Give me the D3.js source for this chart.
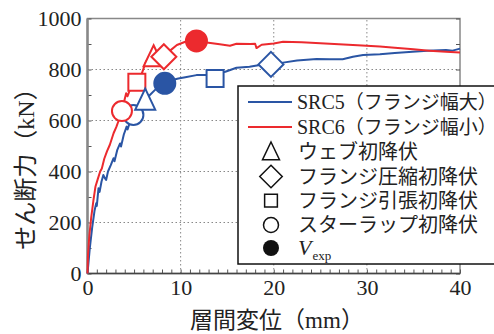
<!DOCTYPE html>
<html>
<head>
<meta charset="utf-8">
<script src="https://cdn.jsdelivr.net/npm/d3@7"></script>
<style>
  body { margin: 0; background: #fff; }
  svg { display: block; }
  text { fill: #222; }
  .serif { font-family: "Liberation Serif", "Times New Roman", "DejaVu Serif", serif; }
  .jp { font-family: "Noto Sans CJK JP", sans-serif; }
</style>
</head>
<body>
<svg id="chart" width="494" height="334"></svg>
<script>
// drift (mm) vs shear (kN)
const src5 = [[0,0],[0.25,100],[0.5,180],[0.75,245],[0.93,275],[1.0,265],[1.18,334],[1.3,320],[1.5,360],[1.7,386],[1.85,375],[2.0,367],[2.2,400],[2.5,425],[2.8,452],[2.9,440],[3.2,485],[3.5,510],[3.6,498],[3.9,545],[4.2,576],[4.3,565],[4.6,598],[4.93,622],[5.5,650],[6.2,674],[6.7,700],[7.25,720],[7.8,738],[8.3,746],[9.0,758],[9.75,765],[10.5,770],[11.7,778],[12.8,778],[14.8,791],[16,807],[17.4,811],[18.5,818],[19.7,820],[21,827],[22.5,835],[24.6,841],[26,840],[27.4,840],[28.5,850],[29.6,857],[31.4,860],[33,865],[34.9,870],[36.5,874],[38.5,876],[39.2,874],[40,882]];
const src6 = [[0,0],[0.05,70],[0.2,150],[0.4,220],[0.64,288],[0.85,340],[1.1,370],[1.36,400],[1.54,412],[1.8,450],[2.1,480],[2.4,505],[2.8,550],[3.1,575],[3.3,595],[3.7,637],[3.9,670],[4.15,707],[4.3,695],[4.6,725],[5.3,750],[5.8,781],[6.3,833],[6.8,840],[7.1,844],[7.7,846],[8.2,850],[8.9,875],[9.6,896],[10.5,909],[11.7,912],[13,905],[14.2,899],[15.3,893],[16,901],[17.5,900],[18,901],[18.15,884],[18.7,897],[20,902],[21,909],[23,907],[25,903],[27,899],[29,895],[31.4,890],[33,885],[35,879],[36.7,874],[38.5,870],[40,867]];

// event points [mm, kN]: SRC5, SRC6
const webYield = [[6.2,674],[7.1,844]];
const flangeCompYield = [[19.7,820],[8.2,850]];
const flangeTensYield = [[13.7,765],[5.3,750]];
const stirrupYield = [[4.93,622],[3.7,637]];
const vExp = [[8.3,746],[11.7,912]];

const seriesIds = ["SRC5", "SRC6"];
const seriesNotes = ["（フランジ幅大）", "（フランジ幅小）"];
const seriesColors = ["#2a55a4", "#ec2a2e"];
const markerNames = ["ウェブ初降伏", "フランジ圧縮初降伏", "フランジ引張初降伏", "スターラップ初降伏"];

const xTicks = [0, 10, 20, 30, 40];
const yTicks = [0, 200, 400, 600, 800, 1000];

const svg = d3.select("#chart");
const x = d3.scaleLinear().domain([0, 40]).range([87.5, 460]);
const y = d3.scaleLinear().domain([0, 1000]).range([273.5, 18.5]);

// grid
svg.append("g").selectAll("line").data([10, 20, 30]).enter().append("line")
  .attr("x1", d => x(d)).attr("x2", d => x(d))
  .attr("y1", y(0)).attr("y2", y(1000))
  .attr("stroke", "#888").attr("stroke-dasharray", "1.5,2.5");
svg.append("g").selectAll("line").data([200, 400, 600, 800]).enter().append("line")
  .attr("x1", x(0)).attr("x2", x(40))
  .attr("y1", d => y(d)).attr("y2", d => y(d))
  .attr("stroke", "#888").attr("stroke-dasharray", "1.5,2.5");

// frame
svg.append("rect")
  .attr("x", x(0)).attr("y", y(1000))
  .attr("width", x(40) - x(0)).attr("height", y(0) - y(1000))
  .attr("fill", "none").attr("stroke", "#888").attr("stroke-width", 1.5);

// minor ticks
const xMinor = svg.append("g").attr("transform", `translate(0,${y(0)})`)
  .call(d3.axisBottom(x).ticks(40).tickSize(-4).tickFormat(""));
const yMinor = svg.append("g").attr("transform", `translate(${x(0)},0)`)
  .call(d3.axisLeft(y).ticks(10).tickSize(-4).tickFormat(""));
const yMinorR = svg.append("g").attr("transform", `translate(${x(40)},0)`)
  .call(d3.axisRight(y).ticks(10).tickSize(-4).tickFormat(""));
[xMinor, yMinor, yMinorR].forEach(g => {
  g.select(".domain").remove();
  g.selectAll("line").attr("stroke", "#555");
});

// axis lines
svg.append("line").attr("x1", x(0)).attr("x2", x(40)).attr("y1", y(0)).attr("y2", y(0))
  .attr("stroke", "#444").attr("stroke-width", 1.5);
svg.append("line").attr("x1", x(0)).attr("x2", x(0)).attr("y1", y(0)).attr("y2", y(1000))
  .attr("stroke", "#888").attr("stroke-width", 2.5);

// tick labels
const xLab = svg.append("g").attr("transform", `translate(0,${y(0)})`)
  .call(d3.axisBottom(x).tickValues(xTicks).tickSize(0).tickPadding(6).tickFormat(d3.format("d")));
const yLab = svg.append("g").attr("transform", `translate(${x(0)},0)`)
  .call(d3.axisLeft(y).tickValues(yTicks).tickSize(0).tickPadding(6).tickFormat(d3.format("d")));
[xLab, yLab].forEach(g => {
  g.attr("font-family", null).attr("font-size", null);
  g.select(".domain").remove();
  g.selectAll("text").attr("class", "serif").attr("font-size", 22).attr("fill", "#222");
});
xLab.selectAll("text").attr("dy", "0.72em");

// axis titles: CJK part and Latin part as separate tspans
function mixedText(sel, parts, size) {
  parts.forEach(p => {
    sel.append("tspan").attr("class", p[1] ? "serif" : "jp").attr("font-size", size).text(p[0]);
  });
}
const xTitle = svg.append("text")
  .attr("x", 277).attr("y", 328)
  .attr("text-anchor", "middle");
mixedText(xTitle, [["層間変位（", 0], ["mm", 1], ["）", 0]], 23);
const yTitle = svg.append("text")
  .attr("transform", "translate(34,163) rotate(-90)")
  .attr("text-anchor", "middle");
mixedText(yTitle, [["せん断力（", 0], ["kN", 1], ["）", 0]], 24);

// curves
const line = d3.line().x(d => x(d[0])).y(d => y(d[1]));
[src5, src6].forEach((s, i) => {
  svg.append("path").datum(s)
    .attr("d", line)
    .attr("fill", "none")
    .attr("stroke", seriesColors[i])
    .attr("stroke-width", 2)
    .attr("stroke-linejoin", "round");
});

// marker shapes
const shapes = {
  tri: s => `M0,${-13*s}L${10*s},${8*s}L${-10*s},${8*s}Z`,
  dia: s => `M0,${-12.5*s}L${12.5*s},0L0,${12.5*s}L${-12.5*s},0Z`,
  sq: s => `M${-8.5*s},${-8.5*s}H${8.5*s}V${8.5*s}H${-8.5*s}Z`,
  circ: s => `M${10*s},0A${10*s},${10*s},0,1,1,${-10*s},0A${10*s},${10*s},0,1,1,${10*s},0Z`
};

function drawMarkers(data, shape, filled) {
  svg.append("g").selectAll("path").data(data).enter().append("path")
    .attr("transform", d => `translate(${x(d[0])},${y(d[1])})`)
    .attr("d", shape(1))
    .attr("fill", (d, i) => filled ? seriesColors[i] : "#fff")
    .attr("stroke", (d, i) => seriesColors[i])
    .attr("stroke-width", 2);
}
drawMarkers(stirrupYield, shapes.circ, false);
drawMarkers(flangeTensYield, shapes.sq, false);
drawMarkers(webYield, shapes.tri, false);
drawMarkers(flangeCompYield, shapes.dia, false);
drawMarkers(vExp, d => shapes.circ(1.05), true);

// legend
const lg = svg.append("g");
lg.append("rect")
  .attr("x", 238).attr("y", 86).attr("width", 270).attr("height", 178)
  .attr("fill", "#fff").attr("stroke", "#111").attr("stroke-width", 1.5);

const rowY = [102, 127, 151.5, 176.5, 200.5, 225, 248];
seriesIds.forEach((id, i) => {
  lg.append("line").attr("x1", 248).attr("x2", 292)
    .attr("y1", rowY[i]).attr("y2", rowY[i])
    .attr("stroke", seriesColors[i]).attr("stroke-width", 2);
  const t = lg.append("text").attr("x", 297).attr("y", rowY[i] + 7);
  t.append("tspan").attr("class", "serif").attr("font-size", 20).text(id);
  t.append("tspan").attr("class", "jp").attr("font-size", 19).text(seriesNotes[i]);
});
const legendShapes = [shapes.tri(0.85), shapes.dia(0.9), shapes.sq(0.75), shapes.circ(0.75)];
markerNames.forEach((name, i) => {
  const cy = rowY[i + 2];
  lg.append("path")
    .attr("transform", `translate(271,${cy + (i === 0 ? 1.5 : 0)})`)
    .attr("d", legendShapes[i])
    .attr("fill", "#fff").attr("stroke", "#111").attr("stroke-width", 1.5);
  lg.append("text").attr("x", 298).attr("y", cy + 7)
    .attr("class", "jp").attr("font-size", 20)
    .text(name);
});
lg.append("path")
  .attr("transform", `translate(271,${rowY[6]})`)
  .attr("d", shapes.circ(0.8))
  .attr("fill", "#111");
const vt = lg.append("text").attr("x", 298).attr("y", rowY[6] + 7).attr("class", "serif");
vt.append("tspan").attr("font-size", 22).attr("font-style", "italic").text("V");
vt.append("tspan").attr("font-size", 13).attr("dy", 5).attr("dx", 1).text("exp");
</script>
</body>
</html>
